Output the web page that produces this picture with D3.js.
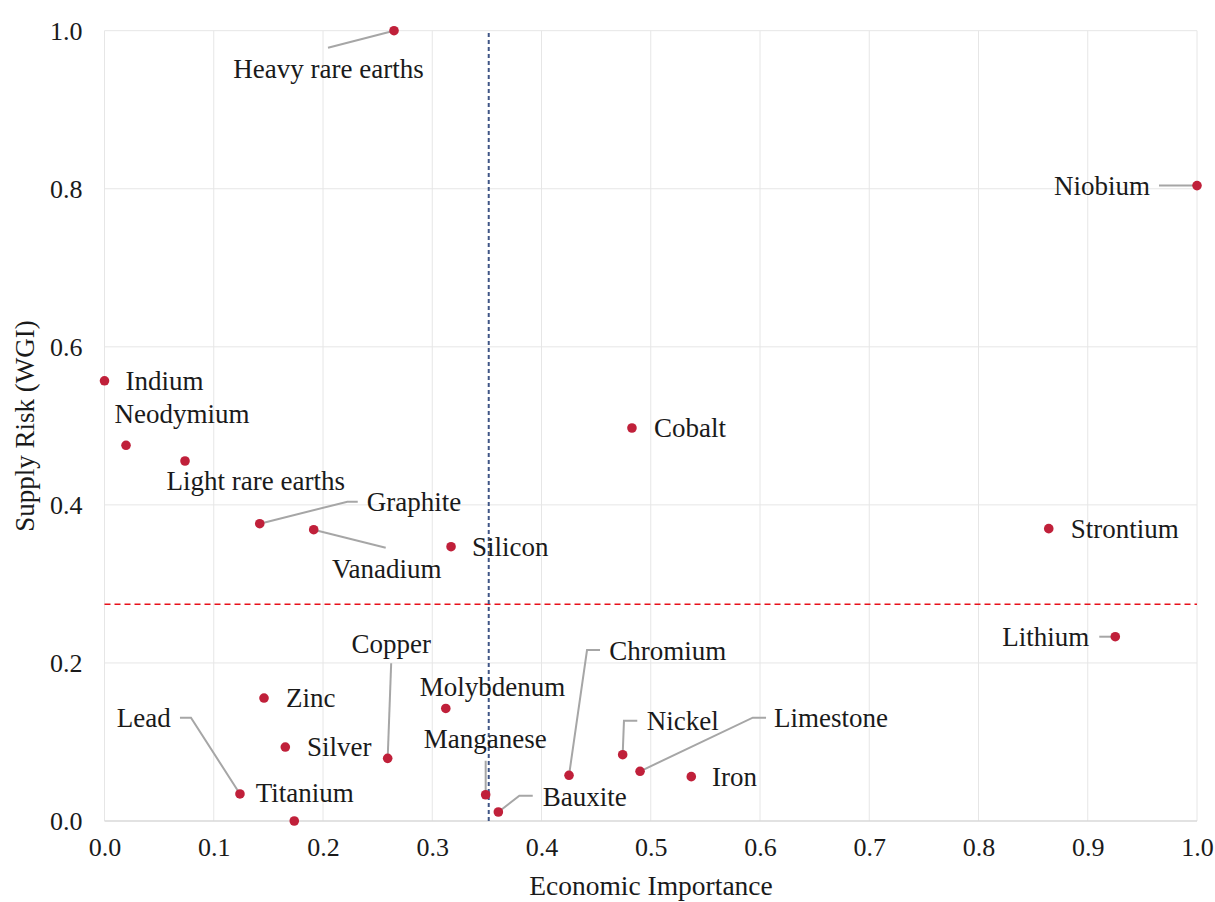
<!DOCTYPE html>
<html>
<head>
<meta charset="utf-8">
<script src="https://cdn.jsdelivr.net/npm/d3@7"></script>
<style>
  html, body { margin: 0; padding: 0; background: #fff; }
  svg text { font-family: "Liberation Serif", "Times New Roman", serif; fill: #1a1a1a; }
</style>
</head>
<body>
<svg id="chart" width="1215" height="902"></svg>
<script>
// ---- Data ----
const materials = ["Heavy rare earths","Niobium","Indium","Neodymium","Light rare earths","Cobalt","Graphite","Vanadium","Silicon","Strontium","Lithium","Zinc","Molybdenum","Silver","Copper","Chromium","Nickel","Limestone","Iron","Manganese","Bauxite","Lead","Titanium"];
const economicImportance = [0.265,1.000,0.000,0.0197,0.0737,0.4828,0.1421,0.1915,0.3172,0.8643,0.9252,0.1460,0.3124,0.1655,0.2592,0.4252,0.4743,0.4902,0.5371,0.3489,0.3605,0.1240,0.1737];
const supplyRisk =        [1.000,0.804,0.557,0.4754,0.4555,0.4973,0.3762,0.3686,0.3471,0.3699,0.2332,0.1556,0.1424,0.0936,0.0793,0.0578,0.0839,0.0629,0.0561,0.0332,0.0114,0.0342,0.0000];
const riskThreshold = 0.2742;
const importanceThreshold = 0.3517;
const xTicks = [0,0.1,0.2,0.3,0.4,0.5,0.6,0.7,0.8,0.9,1.0];
const yTicks = [0,0.2,0.4,0.6,0.8,1.0];
const xTitle = "Economic Importance";
const yTitle = "Supply Risk (WGI)";

// ---- Label layout (pixel offsets from each point) ----
const labelLayout = {
  "Heavy rare earths": {dx:-65.5, dy:47.6, anchor:"middle", leader:[[0,0],[-66,17]]},
  "Niobium":           {dx:-47, dy:9.3, anchor:"end", leader:[[0,0],[-38,0]]},
  "Indium":            {dx:21, dy:9.3, anchor:"start"},
  "Neodymium":         {dx:56, dy:-22.6, anchor:"middle"},
  "Light rare earths": {dx:70.8, dy:29, anchor:"middle"},
  "Cobalt":            {dx:22, dy:9.3, anchor:"start"},
  "Graphite":          {dx:107, dy:-13, anchor:"start", leader:[[0,0],[87.6,-22],[98,-22]]},
  "Vanadium":          {dx:73, dy:48.3, anchor:"middle", leader:[[0,0],[72,18]]},
  "Silicon":           {dx:21, dy:9.3, anchor:"start"},
  "Strontium":         {dx:22, dy:9.6, anchor:"start"},
  "Lithium":           {dx:-26, dy:9.3, anchor:"end", leader:[[0,0],[-16,0]]},
  "Zinc":              {dx:22, dy:9.3, anchor:"start"},
  "Molybdenum":        {dx:46.8, dy:-12, anchor:"middle"},
  "Silver":            {dx:21.7, dy:9, anchor:"start"},
  "Copper":            {dx:3.5, dy:-105, anchor:"middle", leader:[[0,0],[3.5,-95]]},
  "Chromium":          {dx:40.3, dy:-115.3, anchor:"start", leader:[[0,0],[18,-125.3],[31,-125.3]]},
  "Nickel":            {dx:24, dy:-24.7, anchor:"start", leader:[[0,0],[1.3,-34],[14.6,-34]]},
  "Limestone":         {dx:134, dy:-44, anchor:"start", leader:[[0,0],[112.7,-53.6],[126,-53.6]]},
  "Iron":              {dx:20.7, dy:9.3, anchor:"start"},
  "Manganese":         {dx:-0.5, dy:-46.4, anchor:"middle", leader:[[0,0],[0,-34]]},
  "Bauxite":           {dx:44.4, dy:-6.3, anchor:"start", leader:[[0,0],[21,-16.3],[34.4,-16.3]]},
  "Lead":              {dx:-69.3, dy:-66.7, anchor:"end", leader:[[0,0],[-49,-76.3],[-60,-76.3]]},
  "Titanium":          {dx:-38.6, dy:-19.4, anchor:"start"}
};

const data = materials.map((m, i) => ({name: m, x: economicImportance[i], y: supplyRisk[i]}));

// ---- Chart ----
const svg = d3.select("#chart");
const pLeft = 104.5, pRight = 1197, pTop = 30.7, pBottom = 821;
const x = d3.scaleLinear().domain([0, 1]).range([pLeft, pRight]);
const y = d3.scaleLinear().domain([0, 1]).range([pBottom, pTop]);

// gridlines
svg.append("g").selectAll("line").data(xTicks).join("line")
  .attr("x1", d => x(d)).attr("x2", d => x(d))
  .attr("y1", y(0)).attr("y2", y(1))
  .attr("stroke", "#e6e6e6").attr("stroke-width", 1);
svg.append("g").selectAll("line").data(yTicks).join("line")
  .attr("x1", x(0)).attr("x2", x(1))
  .attr("y1", d => y(d)).attr("y2", d => y(d))
  .attr("stroke", d => d === 0 ? "#d9d9d9" : "#e6e6e6").attr("stroke-width", d => d === 0 ? 1.5 : 1);

// axes (tick labels only)
const xAxis = d3.axisBottom(x).tickValues(xTicks).tickFormat(d3.format(".1f")).tickSize(0).tickPadding(0);
const gx = svg.append("g").attr("transform", `translate(0,${pBottom})`).call(xAxis);
gx.select(".domain").remove();
gx.selectAll("text").attr("font-size", 26).attr("font-family", "Liberation Serif").attr("fill", "#1a1a1a").attr("dy", "1.35em");

const yAxis = d3.axisLeft(y).tickValues(yTicks).tickFormat(d3.format(".1f")).tickSize(0).tickPadding(22);
const gy = svg.append("g").attr("transform", `translate(${pLeft},0)`).call(yAxis);
gy.select(".domain").remove();
gy.selectAll("text").attr("font-size", 26).attr("font-family", "Liberation Serif").attr("fill", "#1a1a1a").attr("dy", "0.34em");

// thresholds
svg.append("line")
  .attr("x1", x(0)).attr("x2", x(1))
  .attr("y1", y(riskThreshold)).attr("y2", y(riskThreshold))
  .attr("stroke", "#e8101a").attr("stroke-width", 1.5).attr("stroke-dasharray", "6,4");
svg.append("line")
  .attr("x1", x(importanceThreshold)).attr("x2", x(importanceThreshold))
  .attr("y1", y(0)).attr("y2", y(1))
  .attr("stroke", "#3f5586").attr("stroke-width", 2).attr("stroke-dasharray", "4,3");

// leaders
const lineGen = d3.line();
svg.append("g").selectAll("path").data(data.filter(d => labelLayout[d.name] && labelLayout[d.name].leader)).join("path")
  .attr("d", d => lineGen(labelLayout[d.name].leader.map(p => [x(d.x) + p[0], y(d.y) + p[1]])))
  .attr("fill", "none").attr("stroke", "#a6a6a6").attr("stroke-width", 2);

// points
svg.append("g").selectAll("circle").data(data).join("circle")
  .attr("cx", d => x(d.x)).attr("cy", d => y(d.y)).attr("r", 4.8)
  .attr("fill", "#c0203a");

// labels
svg.append("g").selectAll("text").data(data).join("text")
  .attr("x", d => x(d.x) + labelLayout[d.name].dx)
  .attr("y", d => y(d.y) + labelLayout[d.name].dy)
  .attr("text-anchor", d => labelLayout[d.name].anchor)
  .attr("font-size", 27)
  .text(d => d.name);

// axis titles
svg.append("text").attr("x", 651).attr("y", 895)
  .attr("text-anchor", "middle").attr("font-size", 27.5).text(xTitle);
svg.append("text").attr("transform", `translate(34,426) rotate(-90)`)
  .attr("text-anchor", "middle").attr("font-size", 27).text(yTitle);
</script>
</body>
</html>
